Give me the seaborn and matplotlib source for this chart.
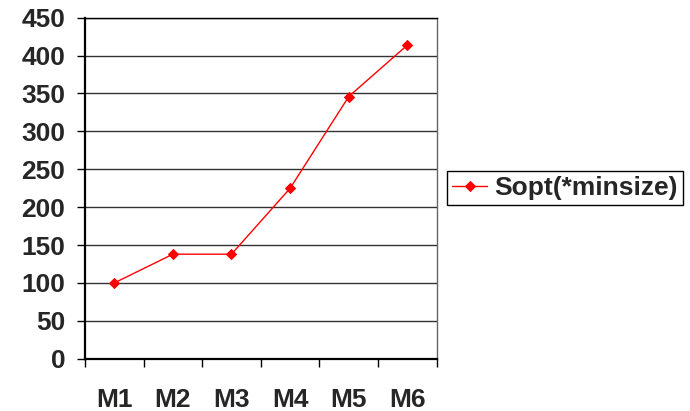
import matplotlib
matplotlib.use("Agg")
import matplotlib.pyplot as plt
import seaborn as sns
import pandas as pd
from matplotlib.ticker import FixedLocator, MultipleLocator

# data
machines = ["M1", "M2", "M3", "M4", "M5", "M6"]
sopt_values = [100, 138, 138, 225, 346, 414]
series_name = "Sopt(*minsize)"

df = pd.DataFrame({"machine": machines, "value": sopt_values})

sns.set_theme(style="white")
plt.rcParams['font.family'] = ['Liberation Sans', 'DejaVu Sans']

fig = plt.figure(figsize=(6.9, 4.11), dpi=100)
ax = fig.add_axes([0.123, 0.127, 0.51, 0.83])

sns.lineplot(data=df, x="machine", y="value", ax=ax, color="red", linewidth=1,
             marker="D", markersize=5, markeredgecolor="red", label=series_name)

ax.set_xlim(-0.5, len(machines) - 0.5)
ax.set_ylim(0, 450)
ax.yaxis.set_major_locator(MultipleLocator(50))
ax.grid(axis="y", color="#333333", linewidth=1)
ax.set_axisbelow(True)

# tick marks sit between categories, like Excel
ax.xaxis.set_minor_locator(FixedLocator([i - 0.5 for i in range(len(machines) + 1)]))
ax.tick_params(axis="x", which="major", length=0, pad=21, labelsize=19)
ax.tick_params(axis="x", which="minor", length=6, width=1, color="black", direction="out", bottom=True)
ax.tick_params(axis="y", which="major", length=6, width=1, color="black", direction="out", left=True,
               pad=8, labelsize=19)
for lab in ax.get_xticklabels() + ax.get_yticklabels():
    lab.set_fontweight("bold")

ax.set_xlabel("")
ax.set_ylabel("")

for side in ["left", "bottom"]:
    ax.spines[side].set_color("black")
    ax.spines[side].set_linewidth(1.6)
ax.spines["top"].set_color("black")
ax.spines["top"].set_linewidth(1)
ax.spines["right"].set_color("#666666")
ax.spines["right"].set_linewidth(1)

ax.get_legend().remove()
handles, labels = ax.get_legend_handles_labels()
leg = fig.legend(handles, labels, loc="center left", bbox_to_anchor=(0.648, 0.543),
                 frameon=True, fancybox=False, edgecolor="black", framealpha=1,
                 prop={"weight": "bold", "size": 19}, handlelength=1.3,
                 handletextpad=0.3, borderpad=0.2, borderaxespad=0)
leg.get_frame().set_linewidth(1)

fig.savefig("out.png", dpi=100)
